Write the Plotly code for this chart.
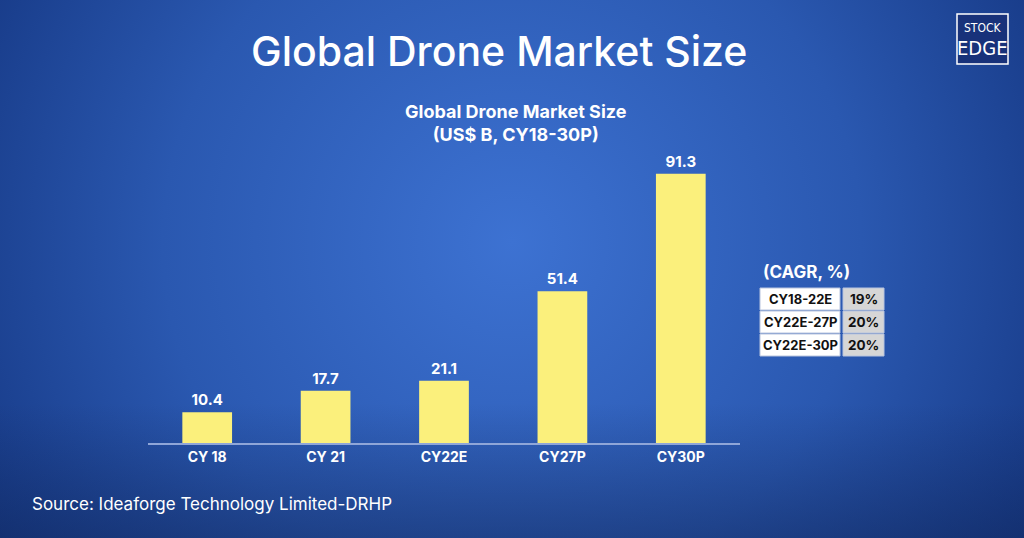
import plotly.graph_objects as go
import urllib.parse

# ---- data ----
categories = ["CY 18", "CY 21", "CY22E", "CY27P", "CY30P"]
market_size = [10.4, 17.7, 21.1, 51.4, 91.3]
value_labels = ["10.4", "17.7", "21.1", "51.4", "91.3"]
cagr_periods = ["CY18-22E", "CY22E-27P", "CY22E-30P"]
cagr_values = ["19%", "20%", "20%"]

TITLE = "Global Drone Market Size"
SUBTITLE = "<b>Global Drone Market Size<br>(US$ B, CY18-30P)</b>"
SOURCE = "Source: Ideaforge Technology Limited-DRHP"

FONT = "Inter"

# background radial gradient (svg)
svg = (
    '<svg xmlns="http://www.w3.org/2000/svg" width="1024" height="538" viewBox="0 0 1024 538">'
    '<defs><radialGradient id="g" cx="0.5" cy="0.45" r="0.62" gradientTransform="translate(0.5 0.45) scale(1 1.9) translate(-0.5 -0.45)">'
    '<stop offset="0" stop-color="#3d72d2"/>'
    '<stop offset="0.55" stop-color="#2a58b0"/>'
    '<stop offset="1" stop-color="#143580"/>'
    '</radialGradient>'
    '<linearGradient id="v" x1="0" y1="0" x2="0" y2="1">'
    '<stop offset="0.75" stop-color="#0f2456" stop-opacity="0"/>'
    '<stop offset="1" stop-color="#0f2456" stop-opacity="0.45"/>'
    '</linearGradient></defs>'
    '<rect width="1024" height="538" fill="url(#g)"/>'
    '<rect width="1024" height="538" fill="url(#v)"/>'
    '</svg>'
)
bg_src = "data:image/svg+xml;charset=utf-8," + urllib.parse.quote(svg)

PL, PT, PW, PH = 148, 148, 592, 295
def px(xp):
    return (xp - PL) / PW
def py(yp):
    return 1 - (yp - PT) / PH

fig = go.Figure()
fig.add_trace(go.Bar(
    x=categories,
    y=market_size,
    text=value_labels,
    textposition="outside",
    textfont=dict(color="white", size=15, family=FONT, weight="bold"),
    marker=dict(color="#fbf07c", line=dict(width=0)),
    width=0.42,
    cliponaxis=False,
    hoverinfo="skip",
))

fig.update_layout(
    width=1024, height=538,
    margin=dict(l=PL, r=1024 - PL - PW, t=PT, b=538 - PT - PH),
    paper_bgcolor="#1c3f8e",
    plot_bgcolor="rgba(0,0,0,0)",
    showlegend=False,
    images=[dict(source=bg_src, xref="paper", yref="paper", x=-PL / PW, y=1 + PT / PH,
                 sizex=1024 / PW, sizey=538 / PH, xanchor="left", yanchor="top",
                 sizing="stretch", layer="below")],
    xaxis=dict(showgrid=False, zeroline=False, showline=True, linecolor="#8fa6d8",
               linewidth=2, ticks="", tickfont=dict(color="white", size=14, family=FONT, weight="bold")),
    yaxis=dict(range=[0, 100], visible=False),
)

ann = [
    dict(text=TITLE, x=px(499), y=py(51),
         font=dict(color="white", size=41, family=FONT, weight=500), xanchor="center"),
    dict(text=SUBTITLE, x=px(516), y=py(123),
         font=dict(color="white", size=18, family=FONT), xanchor="center"),
    dict(text=SOURCE, x=px(30), y=py(504),
         font=dict(color="white", size=17, family=FONT), xanchor="left"),
    dict(text="<b>(CAGR, %)</b>", x=px(761), y=py(272),
         font=dict(color="white", size=17, family=FONT), xanchor="left"),
]

shapes = []
row_top = 288
row_h = 22
for i, (p, v) in enumerate(zip(cagr_periods, cagr_values)):
    y0 = row_top + i * (row_h + 1)
    y1 = y0 + row_h
    shapes.append(dict(type="rect", xref="paper", yref="paper", x0=px(760), x1=px(840),
                       y0=py(y1), y1=py(y0), fillcolor="white", line=dict(color="#b8c4de", width=1)))
    shapes.append(dict(type="rect", xref="paper", yref="paper", x0=px(843), x1=px(884),
                       y0=py(y1), y1=py(y0), fillcolor="#d6d6d6", line=dict(color="#b8c4de", width=1)))
    ann.append(dict(text=f"<b>{p}</b>", x=px(800), y=py((y0 + y1) / 2),
                    font=dict(color="#111111", size=13, family=FONT), xanchor="center"))
    ann.append(dict(text=f"<b>{v}</b>", x=px(863.5), y=py((y0 + y1) / 2),
                    font=dict(color="#111111", size=13.5, family=FONT), xanchor="center"))

# logo
shapes.append(dict(type="rect", xref="paper", yref="paper", x0=px(957), x1=px(1008),
                   y0=py(64), y1=py(14), fillcolor="#18327a", line=dict(color="white", width=1.5)))
ann.append(dict(text="STOCK", x=px(982.5), y=py(28),
                font=dict(color="white", size=12, family="Liberation Sans Narrow, DejaVu Sans Condensed"),
                xanchor="center"))
ann.append(dict(text="EDGE", x=px(982.5), y=py(48),
                font=dict(color="white", size=20, family="Liberation Sans Narrow, DejaVu Sans Condensed"),
                xanchor="center"))

for a in ann:
    a.update(xref="paper", yref="paper", showarrow=False, yanchor="middle")

fig.update_layout(annotations=ann, shapes=shapes)
fig.write_html("out.html", config={"displayModeBar": False, "staticPlot": True},
               post_script="document.body.style.margin='0';document.body.style.overflow='hidden';")
